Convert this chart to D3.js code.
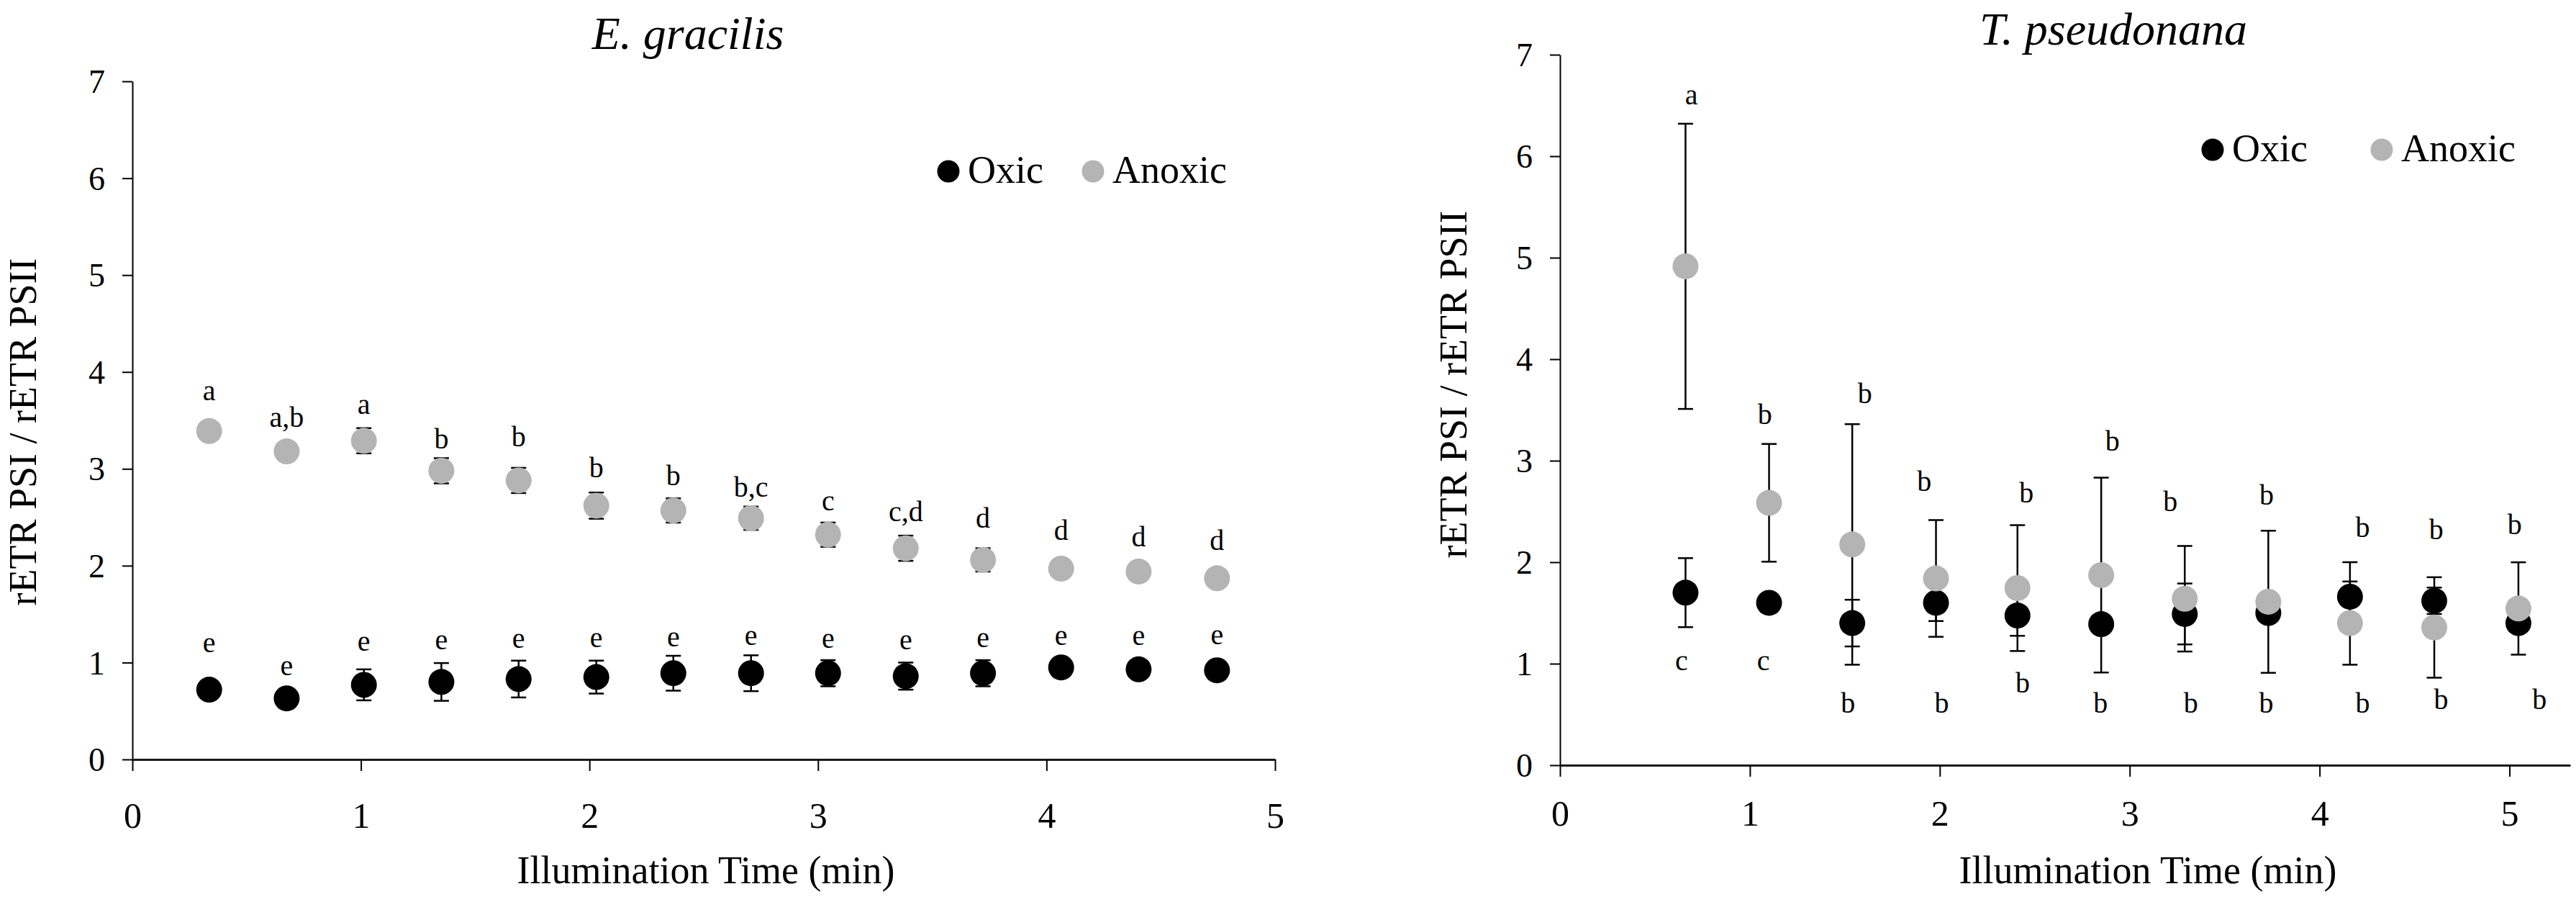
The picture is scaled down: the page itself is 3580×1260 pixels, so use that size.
<!DOCTYPE html>
<html>
<head>
<meta charset="utf-8">
<script src="https://d3js.org/d3.v7.min.js"></script>
<style>
  body { margin: 0; background: #fff; }
  svg text { font-family: "Liberation Serif", "Times New Roman", serif; fill: #000; }
</style>
</head>
<body>
<svg width="3580" height="1260"></svg>
<script>
var svg = d3.select("svg"),
    width = +svg.attr("width"),
    height = +svg.attr("height");

var seriesNames = ["Oxic", "Anoxic"];
var seriesColors = ["#000000", "#b4b4b4"];
var yTickValues = [0, 1, 2, 3, 4, 5, 6, 7];
var xTickValues = [0, 1, 2, 3, 4, 5];

// E. gracilis
var egTime = [0.336, 0.675, 1.013, 1.352, 1.690, 2.030, 2.367, 2.707, 3.044, 3.384, 3.722, 4.064, 4.403, 4.746];
var egOxic = [0.72, 0.63, 0.77, 0.80, 0.83, 0.85, 0.89, 0.89, 0.89, 0.86, 0.89, 0.95, 0.93, 0.92];
var egOxicErr = [0.05, 0.05, 0.16, 0.195, 0.19, 0.17, 0.18, 0.185, 0.135, 0.14, 0.135, 0.05, 0.05, 0.05];
var egAnoxic = [3.39, 3.18, 3.29, 2.98, 2.88, 2.62, 2.57, 2.49, 2.32, 2.18, 2.06, 1.97, 1.94, 1.87];
var egAnoxicErr = [0.05, 0.05, 0.13, 0.13, 0.13, 0.135, 0.125, 0.12, 0.125, 0.13, 0.12, 0.08, 0.06, 0.05];
var egOxicLetters = ["e", "e", "e", "e", "e", "e", "e", "e", "e", "e", "e", "e", "e", "e"];
var egOxicLetterY = [1.11, 0.87, 1.12, 1.14, 1.15, 1.16, 1.17, 1.18, 1.15, 1.14, 1.16, 1.18, 1.18, 1.19];
var egAnoxicLetters = ["a", "a,b", "a", "b", "b", "b", "b", "b,c", "c", "c,d", "d", "d", "d", "d"];
var egAnoxicLetterY = [3.71, 3.43, 3.57, 3.21, 3.23, 2.91, 2.83, 2.715, 2.57, 2.46, 2.395, 2.27, 2.20, 2.165];

// T. pseudonana
var tpTime = [0.661, 1.101, 1.539, 1.98, 2.409, 2.85, 3.29, 3.73, 4.16, 4.604, 5.047];
var tpOxic = [1.70, 1.60, 1.40, 1.60, 1.475, 1.39, 1.49, 1.50, 1.66, 1.62, 1.40];
var tpOxicErr = [0.34, 0.08, 0.23, 0.18, 0.20, 0.08, 0.30, 0.08, 0.34, 0.13, 0.08];
var tpAnoxic = [4.915, 2.585, 2.175, 1.84, 1.745, 1.873, 1.64, 1.61, 1.40, 1.357, 1.544];
var tpAnoxicErr = [1.405, 0.58, 1.185, 0.575, 0.62, 0.96, 0.52, 0.70, 0.41, 0.495, 0.455];
var tpOxicLetters = ["c", "c", "b", "b", "b", "b", "b", "b", "b", "b", "b"];
var tpOxicLetterX = [0.640, 1.071, 1.517, 2.01, 2.436, 2.847, 3.322, 3.719, 4.227, 4.640, 5.158];
var tpOxicLetterY = [0.936, 0.936, 0.518, 0.518, 0.714, 0.518, 0.518, 0.518, 0.518, 0.555, 0.555];
var tpAnoxicLetters = ["a", "b", "b", "b", "b", "b", "b", "b", "b", "b", "b"];
var tpAnoxicLetterX = [0.692, 1.079, 1.606, 1.918, 2.456, 2.909, 3.214, 3.721, 4.227, 4.614, 5.027];
var tpAnoxicLetterY = [6.51, 3.36, 3.57, 2.70, 2.59, 3.10, 2.506, 2.567, 2.25, 2.224, 2.278];

var panels = [
  {
    title: "E. gracilis", time: egTime,
    values: [egOxic, egAnoxic], errors: [egOxicErr, egAnoxicErr],
    letters: [egOxicLetters, egAnoxicLetters],
    letterX: [egTime, egTime], letterY: [egOxicLetterY, egAnoxicLetterY],
    xMax: 5, left: 184, right: 1772, top: 113, bottom: 1055,
    titleX: 956, titleY: 68, yTitleX: 50, yTitleY: 600, xTitleX: 981,
    legendX: 1318, legendY: 238, legendGap: 201, xLabelDy: 95
  },
  {
    title: "T. pseudonana", time: tpTime,
    values: [tpOxic, tpAnoxic], errors: [tpOxicErr, tpAnoxicErr],
    letters: [tpOxicLetters, tpAnoxicLetters],
    letterX: [tpOxicLetterX, tpAnoxicLetterX], letterY: [tpOxicLetterY, tpAnoxicLetterY],
    xMax: 5.32, left: 2168, right: 3572, top: 76, bottom: 1063,
    titleX: 2937, titleY: 62, yTitleX: 2038, yTitleY: 534, xTitleX: 2985,
    legendX: 3075, legendY: 208, legendGap: 235, xLabelDy: 84
  }
];

var markerR = 18,
    capHalf = 10.5;

panels.forEach(function(p) {
  var g = svg.append("g");

  var x = d3.scaleLinear().domain([0, p.xMax]).range([p.left, p.right]);
  var y = d3.scaleLinear().domain([0, 7]).range([p.bottom, p.top]);

  // y axis
  var yAxis = g.append("g")
    .attr("transform", "translate(" + p.left + ",0)")
    .call(d3.axisLeft(y).tickValues(yTickValues).tickFormat(d3.format("d"))
      .tickSize(14).tickSizeOuter(0).tickPadding(24));
  yAxis.select(".domain").attr("stroke", "#000").attr("stroke-width", 2);
  yAxis.selectAll(".tick line").attr("stroke", "#000").attr("stroke-width", 2);
  yAxis.selectAll(".tick text")
    .attr("font-size", 46)
    .attr("font-family", "Liberation Serif")
    .attr("dy", "0.34em");

  // x axis
  var xAxis = g.append("g")
    .attr("transform", "translate(0," + p.bottom + ")")
    .call(d3.axisBottom(x).tickValues(xTickValues).tickFormat(d3.format("d"))
      .tickSize(16).tickSizeOuter(0));
  xAxis.select(".domain").attr("stroke", "#1a1a1a").attr("stroke-width", 3);
  xAxis.selectAll(".tick line").attr("stroke", "#000").attr("stroke-width", 2);
  xAxis.selectAll(".tick text")
    .attr("font-size", 50)
    .attr("font-family", "Liberation Serif")
    .attr("dy", null)
    .attr("y", p.xLabelDy);

  // error bars, behind the markers
  p.values.forEach(function(vals, s) {
    var err = p.errors[s];
    var bars = g.append("g").selectAll("g").data(vals).enter().append("g")
      .attr("stroke", "#000").attr("stroke-width", 2.5);
    bars.append("line")
      .attr("x1", (d, i) => x(p.time[i])).attr("x2", (d, i) => x(p.time[i]))
      .attr("y1", (d, i) => y(d + err[i])).attr("y2", (d, i) => y(d - err[i]));
    bars.append("line")
      .attr("x1", (d, i) => x(p.time[i]) - capHalf).attr("x2", (d, i) => x(p.time[i]) + capHalf)
      .attr("y1", (d, i) => y(d + err[i])).attr("y2", (d, i) => y(d + err[i]));
    bars.append("line")
      .attr("x1", (d, i) => x(p.time[i]) - capHalf).attr("x2", (d, i) => x(p.time[i]) + capHalf)
      .attr("y1", (d, i) => y(d - err[i])).attr("y2", (d, i) => y(d - err[i]));
  });

  // markers
  p.values.forEach(function(vals, s) {
    g.append("g").selectAll("circle").data(vals).enter().append("circle")
      .attr("cx", (d, i) => x(p.time[i]))
      .attr("cy", d => y(d))
      .attr("r", markerR)
      .attr("fill", seriesColors[s]);
  });

  // significance letters
  p.letters.forEach(function(txt, s) {
    g.append("g").selectAll("text").data(txt).enter().append("text")
      .attr("x", (d, i) => x(p.letterX[s][i]))
      .attr("y", (d, i) => y(p.letterY[s][i]))
      .attr("text-anchor", "middle")
      .attr("font-size", 40)
      .text(d => d);
  });

  // legend
  seriesNames.forEach(function(name, s) {
    var lx = p.legendX + s * p.legendGap;
    g.append("circle")
      .attr("cx", lx).attr("cy", p.legendY).attr("r", 15.5)
      .attr("fill", seriesColors[s]);
    g.append("text")
      .attr("x", lx + 27).attr("y", p.legendY + 16)
      .attr("font-size", 54)
      .text(name);
  });

  // titles
  g.append("text")
    .attr("x", p.titleX).attr("y", p.titleY)
    .attr("text-anchor", "middle")
    .attr("font-size", 64)
    .attr("font-style", "italic")
    .text(p.title);

  g.append("text")
    .attr("transform", "translate(" + p.yTitleX + "," + p.yTitleY + ") rotate(-90)")
    .attr("text-anchor", "middle")
    .attr("font-size", 54)
    .text("rETR PSI / rETR PSII");

  g.append("text")
    .attr("x", p.xTitleX).attr("y", 1227)
    .attr("text-anchor", "middle")
    .attr("font-size", 54)
    .text("Illumination Time (min)");
});
</script>
</body>
</html>
